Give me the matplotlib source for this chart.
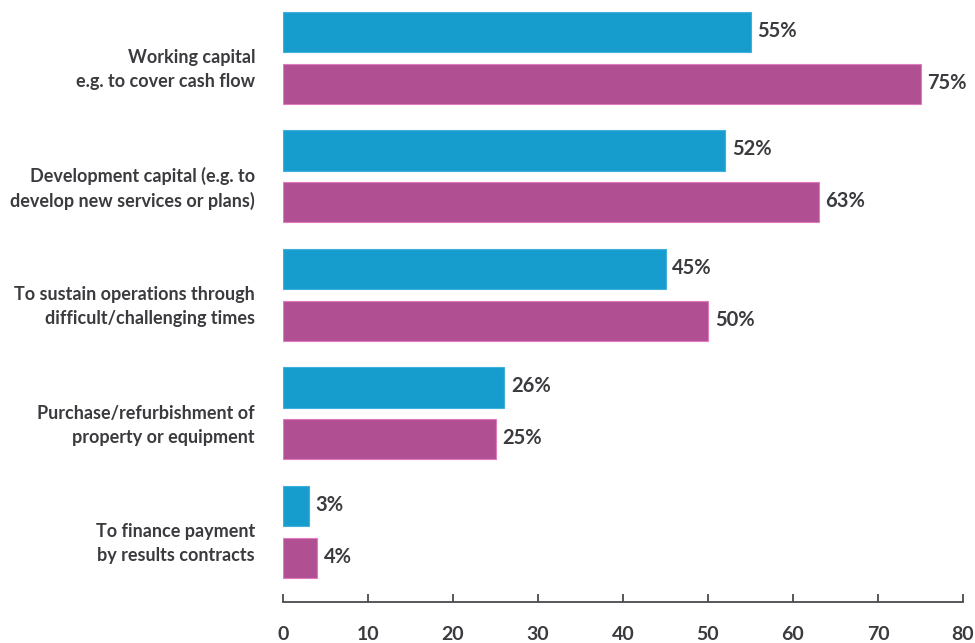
import numpy as np
import matplotlib.pyplot as plt

# Reasons for seeking finance: two survey groups
categories = [
    "Working capital\ne.g. to cover cash flow",
    "Development capital (e.g. to\ndevelop new services or plans)",
    "To sustain operations through\ndifficult/challenging times",
    "Purchase/refurbishment of\nproperty or equipment",
    "To finance payment\nby results contracts",
]
series_a = [55, 52, 45, 26, 3]
series_b = [75, 63, 50, 25, 4]

blue = "#179dcd"
purple = "#b04f92"
text_col = "#3b3b3f"

plt.rcParams['font.family'] = ['Lato', 'DejaVu Sans']

fig = plt.figure(figsize=(9.75, 6.43), dpi=100)
ax = fig.add_axes([283 / 975, 41 / 643, 680 / 975, 602 / 643])

y = np.arange(len(categories))
h = 0.338
off = 0.219

bars_a = ax.barh(y - off, series_a, height=h, color=blue, edgecolor="#3fb0dc", linewidth=0.8)
bars_b = ax.barh(y + off, series_b, height=h, color=purple, edgecolor="#e27bbd", linewidth=0.8)

for bars, vals in [(bars_a, series_a), (bars_b, series_b)]:
    for b, v in zip(bars, vals):
        ax.annotate(f"{v}%", xy=(v, b.get_y() + b.get_height() / 2),
                    xytext=(5, 1), textcoords="offset points",
                    ha="left", va="center", fontsize=14.5, fontweight="bold",
                    color=text_col)

# category labels sit to the left of each pair of bars
trans = ax.get_yaxis_transform()
for i, cat in enumerate(categories):
    ax.text(-0.041, i + 0.1, cat, transform=trans, ha="right", va="center",
            fontsize=13, fontweight="bold", color=text_col, linespacing=1.5)

ax.set_xlim(0, 80)
ax.set_ylim(4.591, -0.489)
ax.set_xticks(np.arange(0, 81, 10))
ax.set_yticks([])
ax.tick_params(axis="x", direction="in", length=6, width=1.3, color="#4a4a4e",
               pad=17, labelsize=14, labelcolor=text_col)
for lab in ax.get_xticklabels():
    lab.set_fontweight("bold")

for s in ["top", "right", "left"]:
    ax.spines[s].set_visible(False)
ax.spines["bottom"].set_color("#4a4a4e")
ax.spines["bottom"].set_linewidth(1.3)

fig.savefig("out.png", dpi=100)
